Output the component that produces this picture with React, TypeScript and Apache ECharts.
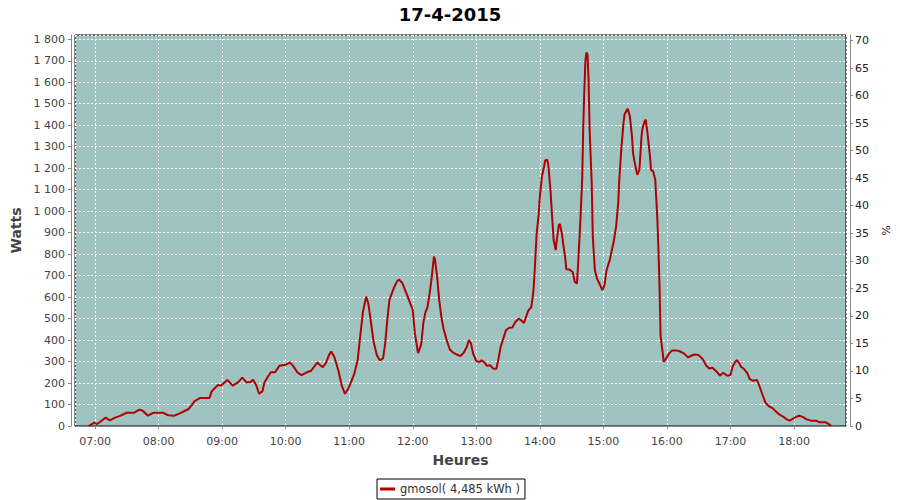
import React, { useEffect, useRef } from "react";
import * as echarts from "echarts";

const times = [
  "06:54","06:59","07:02","07:05","07:10","07:14","07:19","07:23","07:28","07:30",
  "07:37","07:42","07:45","07:50","07:54","07:56","08:04","08:09","08:15","08:20",
  "08:25","08:28","08:31","08:34","08:39","08:48","08:50","08:56","08:59","09:05",
  "09:10","09:15","09:19","09:23","09:27","09:29","09:32","09:35","09:38","09:40",
  "09:43","09:46","09:50","09:54","10:00","10:04","10:07","10:11","10:15","10:20",
  "10:24","10:26","10:30","10:32","10:35","10:38","10:41","10:43","10:46","10:50",
  "10:53","10:56","10:59","11:02","11:05","11:08","11:10","11:13","11:16","11:18",
  "11:20","11:23","11:26","11:29","11:32","11:34","11:36","11:38","11:42","11:45",
  "11:47","11:50","11:54","11:57","12:00","12:02","12:04","12:05","12:08","12:10",
  "12:12","12:14","12:16","12:18","12:20","12:21","12:23","12:25","12:27","12:29",
  "12:32","12:35","12:38","12:41","12:45","12:48","12:51","12:53","12:55","12:57",
  "13:00","13:03","13:05","13:08","13:10","13:13","13:16","13:19","13:21","13:23",
  "13:26","13:28","13:31","13:34","13:37","13:40","13:42","13:45","13:47","13:49",
  "13:52","13:54","13:55","13:56","13:57","13:59","14:00","14:02","14:04","14:05",
  "14:07","14:08","14:10","14:12","14:13","14:15","14:16","14:18","14:19","14:21",
  "14:22","14:24","14:25","14:28","14:31","14:33","14:35","14:36","14:38","14:40",
  "14:41","14:42","14:43","14:44","14:45","14:46","14:47","14:49","14:50","14:52",
  "14:54","14:57","14:59","15:01","15:03","15:06","15:08","15:10","15:12","15:14",
  "15:15","15:17","15:19","15:20","15:22","15:23","15:25","15:27","15:28","15:30",
  "15:32","15:34","15:35","15:36","15:37","15:39","15:40","15:42","15:44","15:45",
  "15:47","15:49","15:51","15:52","15:53","15:54","15:56","15:57","15:59","16:02",
  "16:05","16:09","16:12","16:16","16:20","16:23","16:26","16:30","16:34","16:37",
  "16:40","16:43","16:47","16:50","16:53","16:57","17:00","17:02","17:04","17:06",
  "17:08","17:10","17:13","17:16","17:18","17:21","17:25","17:27","17:30","17:33",
  "17:36","17:40","17:43","17:46","17:50","17:53","17:56","17:58","18:02","18:05",
  "18:09","18:12","18:16","18:21","18:24","18:30","18:34","18:35"
];

const watts = [
  0,15,9,20,39,26,39,46,57,62,
  62,76,71,48,59,62,62,50,48,59,
  71,78,95,116,130,130,160,191,188,214,
  188,203,225,203,205,216,192,150,161,203,
  228,250,250,280,285,296,280,250,237,250,
  257,270,296,285,274,293,331,347,321,254,
  188,150,172,208,246,308,401,532,602,571,
  502,393,331,305,316,386,494,587,641,672,
  682,667,617,579,540,432,370,339,380,480,
  530,555,620,695,788,776,695,586,508,454,
  400,356,342,334,326,340,368,400,384,337,
  302,298,306,294,280,283,267,267,314,368,
  415,446,457,459,485,500,493,480,508,536,
  555,633,711,804,897,990,1068,1162,1208,1236,
  1239,1216,1099,944,866,819,866,936,940,890,
  850,780,730,728,717,671,663,741,928,1150,
  1395,1560,1700,1738,1730,1613,1380,1130,881,725,
  686,655,632,655,725,772,819,865,928,1037,
  1146,1294,1411,1450,1470,1476,1442,1348,1270,1216,
  1169,1192,1270,1348,1387,1418,1426,1348,1255,1192,
  1185,1146,959,819,655,421,340,299,312,338,
  352,352,348,338,319,327,333,330,310,282,
  268,271,253,234,248,234,237,276,295,307,
  295,276,264,245,219,211,214,191,149,109,
  93,82,67,54,43,31,25,31,43,48,
  40,31,25,25,17,17,5,0
];

const seriesName = "gmosol( 4,485 kWh )";
const chartTitle = "17-4-2015";
const FONT = "DejaVu Sans";

function ts(t: string, s = 0): number {
  const [h, m] = t.split(":").map(Number);
  return new Date(2015, 3, 17, h, m, s).getTime();
}

function fmtWatts(v: number): string {
  if (v >= 1000) {
    const th = Math.floor(v / 1000);
    const rest = String(Math.round(v % 1000)).padStart(3, "0");
    return th + " " + rest;
  }
  return String(v);
}

export default function App() {
  const ref = useRef<HTMLDivElement>(null);
  useEffect(() => {
    if (!ref.current) return;
    const chart = echarts.init(ref.current, undefined, { renderer: "svg" });
    const data = times.map((t, i) => [ts(t), watts[i]]);
    const pad = (n: number) => (n < 10 ? "0" + n : "" + n);
    chart.setOption({
      animation: false,
      backgroundColor: "#ffffff",
      title: {
        text: chartTitle,
        left: "center",
        top: 0,
        textStyle: { fontFamily: FONT, fontSize: 18, fontWeight: "bold", color: "#000" },
      },
      legend: {
        bottom: 1,
        left: "center",
        borderColor: "#000",
        borderWidth: 1,
        borderRadius: 0,
        padding: [4, 5, 4, 3],
        itemWidth: 15,
        itemHeight: 3,
        icon: "rect",
        textStyle: { fontFamily: FONT, fontSize: 11.5, color: "#333" },
        data: [seriesName],
      },
      grid: {
        left: 75,
        right: 54,
        top: 35,
        bottom: 74,
        show: true,
        backgroundColor: "#9fc3c1",
        borderColor: "#000",
        borderWidth: 1,
      },
      xAxis: {
        type: "time",
        min: ts("06:41", 5),
        max: ts("18:49", 5),
        minInterval: 3600 * 1000,
        maxInterval: 3600 * 1000,
        offset: 4,
        name: "Heures",
        nameLocation: "middle",
        nameGap: 23,
        nameTextStyle: { fontFamily: FONT, fontSize: 14, fontWeight: "bold", color: "#444" },
        axisLine: { show: true, lineStyle: { color: "#888" } },
        axisTick: { show: true, length: 3, lineStyle: { color: "#888" } },
        axisLabel: {
          showMinLabel: false,
          showMaxLabel: false,
          margin: 6,
          fontFamily: FONT,
          fontSize: 11,
          color: "#444",
          formatter: (v: number) => {
            const d = new Date(v);
            return pad(d.getHours()) + ":" + pad(d.getMinutes());
          },
        },
        splitLine: { show: true, lineStyle: { color: "#ffffff", type: [2, 2], width: 1 } },
      },
      yAxis: [
        {
          type: "value",
          min: 0,
          max: 1820,
          interval: 100,
          offset: 4,
          name: "Watts",
          nameLocation: "middle",
          nameGap: 41,
          nameTextStyle: { fontFamily: FONT, fontSize: 14, fontWeight: "bold", color: "#444" },
          axisLine: { show: true, lineStyle: { color: "#888" } },
          axisTick: { show: true, length: 3, lineStyle: { color: "#888" } },
          axisLabel: {
            showMaxLabel: false,
            margin: 6,
            fontFamily: FONT,
            fontSize: 11,
            color: "#444",
            formatter: (v: number) => fmtWatts(v),
          },
          splitLine: { show: true, lineStyle: { color: "#ffffff", type: [2, 2], width: 1 } },
        },
        {
          type: "value",
          min: 0,
          max: 71,
          interval: 5,
          offset: 4,
          position: "right",
          name: "%",
          nameLocation: "middle",
          nameGap: 24,
          nameRotate: -90,
          nameTextStyle: { fontFamily: FONT, fontSize: 11, color: "#222" },
          axisLine: { show: true, lineStyle: { color: "#888" } },
          axisTick: { show: true, length: 3, lineStyle: { color: "#888" } },
          axisLabel: {
            showMaxLabel: false,
            margin: 5,
            fontFamily: FONT,
            fontSize: 11,
            color: "#222",
          },
          splitLine: { show: false },
        },
      ],
      series: [
        {
          name: seriesName,
          type: "line",
          data,
          showSymbol: false,
          symbol: "none",
          yAxisIndex: 0,
          color: "#b00000",
          lineStyle: { color: "#b00000", width: 2 },
          itemStyle: { color: "#b00000" },
        },
        {
          name: "pct",
          type: "line",
          yAxisIndex: 1,
          data: [],
          showSymbol: false,
        },
      ],
    });
    return () => chart.dispose();
  }, []);
  return (
    <div
      ref={ref}
      style={{ position: "fixed", left: 0, top: 0, width: 900, height: 500 }}
    />
  );
}
